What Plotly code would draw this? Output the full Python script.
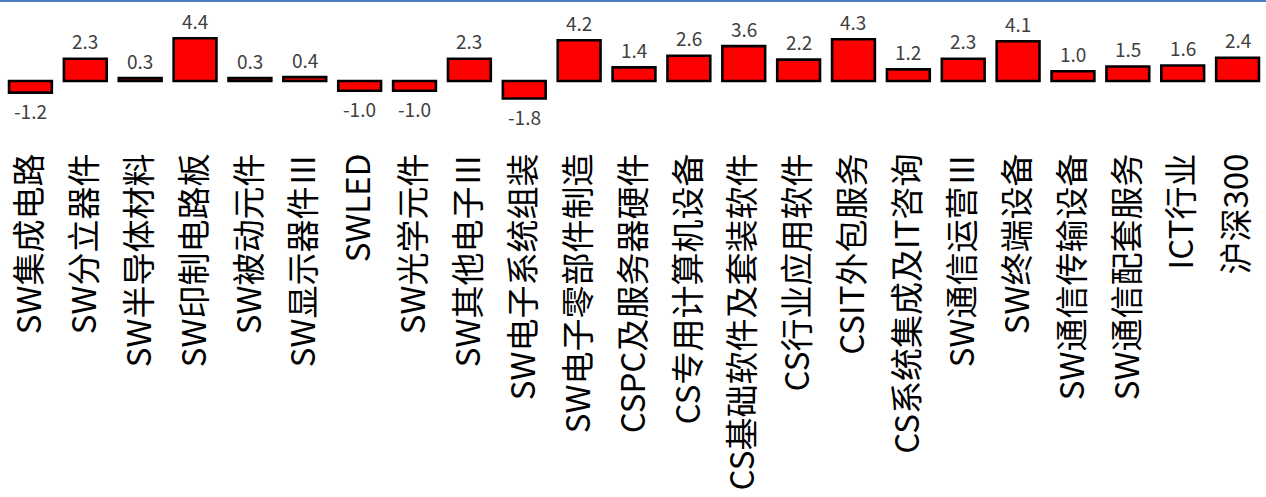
import plotly.graph_objects as go

categories = ["SW集成电路", "SW分立器件", "SW半导体材料", "SW印制电路板", "SW被动元件",
              "SW显示器件Ⅲ", "SWLED", "SW光学元件", "SW其他电子Ⅲ", "SW电子系统组装",
              "SW电子零部件制造", "CSPC及服务器硬件", "CS专用计算机设备", "CS基础软件及套装软件",
              "CS行业应用软件", "CSIT外包服务", "CS系统集成及IT咨询", "SW通信运营Ⅲ",
              "SW终端设备", "SW通信传输设备", "SW通信配套服务", "ICT行业", "沪深300"]
values = [-1.2, 2.3, 0.3, 4.4, 0.3, 0.4, -1.0, -1.0, 2.3, -1.8, 4.2, 1.4, 2.6, 3.6,
          2.2, 4.3, 1.2, 2.3, 4.1, 1.0, 1.5, 1.6, 2.4]

FONT = "Microsoft YaHei, Noto Sans CJK SC, sans-serif"

fig = go.Figure()
fig.add_trace(go.Bar(
    x=categories, y=values,
    marker=dict(color="#FF0000", line=dict(color="#000000", width=2.6)),
    hoverinfo="x+y",
))

for c, v in zip(categories, values):
    fig.add_annotation(
        x=c, y=v, text=f"{v:.1f}", showarrow=False,
        yanchor="middle", yshift=18 if v >= 0 else -18,
        font=dict(family=FONT, size=19, color="#404040"),
    )

# top border line
fig.add_shape(type="line", xref="paper", yref="paper", x0=-0.01, x1=1.01,
              ysizemode="pixel", yanchor=1, y0=4, y1=4,
              line=dict(color="#4A7EBB", width=2))

H = 497
t, plot_bottom_px = 5, 146
zero_px = 81
ppu = 9.7
ymax = (zero_px - t) / ppu
ymin = -(plot_bottom_px - zero_px) / ppu

fig.update_layout(
    width=1266, height=H,
    margin=dict(l=3, r=1, t=t, b=H - plot_bottom_px, autoexpand=False),
    paper_bgcolor="white", plot_bgcolor="white",
    bargap=0.22, showlegend=False,
    xaxis=dict(tickangle=-90, showgrid=False, zeroline=False, showline=False,
               ticks="", automargin=False,
               tickfont=dict(family=FONT, size=33, color="#000000")),
    yaxis=dict(range=[ymin, ymax], showgrid=False, zeroline=False, showline=False,
               showticklabels=False, ticks=""),
)

fig.write_html("out.html", config={"displayModeBar": False},
               post_script="document.body.style.margin='0';document.body.style.overflow='hidden';")
